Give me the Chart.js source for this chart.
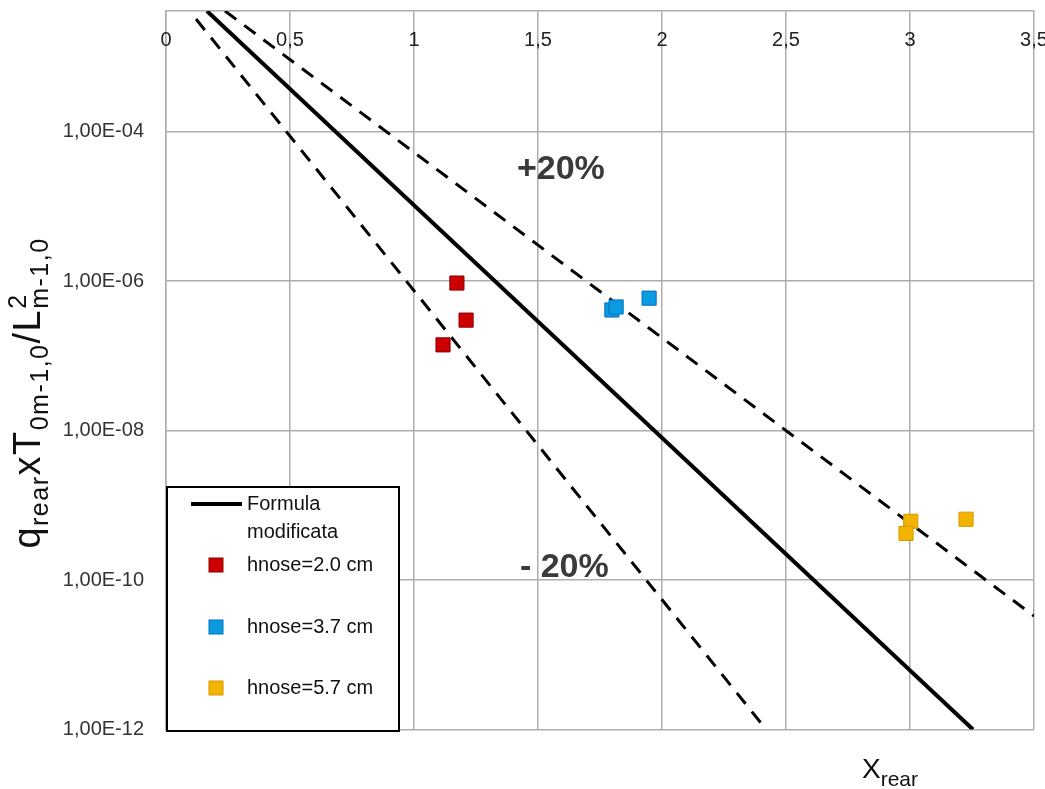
<!DOCTYPE html>
<html>
<head>
<meta charset="utf-8">
<script src="https://cdn.jsdelivr.net/npm/chart.js@4.4.0/dist/chart.umd.min.js"></script>
<style>
  html, body { margin: 0; padding: 0; background: #fff; }
</style>
</head>
<body>
<canvas id="chart" width="1045" height="789"></canvas>
<script>
// axis ticks
const xTickValues = [0, 0.5, 1, 1.5, 2, 2.5, 3, 3.5];
const xTickLabels = ['0', '0,5', '1', '1,5', '2', '2,5', '3', '3,5'];
const yTickValues = [1e-12, 1e-10, 1e-8, 1e-6, 1e-4];
const yTickLabels = ['1,00E-12', '1,00E-10', '1,00E-08', '1,00E-06', '1,00E-04'];

// reference lines (end points)
const formulaX = [0.165, 3.254];
const formulaY = [4.1e-3, 1e-12];
const plus20X = [0.238, 3.5];
const plus20Y = [4.1e-3, 3.3e-11];
const minus20X = [0.121, 2.42];
const minus20Y = [3.2e-3, 1e-12];

// measured points
const h20X = [1.173, 1.210, 1.117];
const h20Y = [9.4e-7, 3.0e-7, 1.4e-7];
const h37X = [1.798, 1.815, 1.948];
const h37Y = [4.1e-7, 4.5e-7, 5.9e-7];
const h57X = [3.003, 2.984, 3.226];
const h57Y = [6.1e-10, 4.2e-10, 6.5e-10];

const FONT = '"Liberation Sans", Arial, sans-serif';
const GRID = '#adadad';

function pts(xs, ys) {
    return xs.map((x, i) => ({x: x, y: ys[i]}));
}

// draws text pieces one after another, with sub/superscripts
function drawPieces(ctx, pieces, x0, y0) {
    let x = x0;
    pieces.forEach(p => {
        ctx.font = p.size + 'px ' + FONT;
        ctx.fillText(p.t, x, y0 + (p.dy || 0));
        if (!p.stack) x += ctx.measureText(p.t).width;
    });
    return x - x0;
}

const overlay = {
    id: 'overlay',
    afterDraw(chart) {
        const ctx = chart.ctx;
        const xs = chart.scales.x, ys = chart.scales.y;
        ctx.save();

        // x tick labels sit inside the plot, under the top edge
        ctx.fillStyle = '#222';
        ctx.font = '20px ' + FONT;
        ctx.textAlign = 'center';
        ctx.textBaseline = 'middle';
        xTickValues.forEach((v, i) => {
            ctx.fillText(xTickLabels[i], xs.getPixelForValue(v), 40);
        });

        // +20% / -20% notes
        ctx.fillStyle = '#3a3a3a';
        ctx.font = 'bold 34px ' + FONT;
        ctx.textAlign = 'left';
        ctx.fillText('+20%', xs.getPixelForValue(1.415), ys.getPixelForValue(3.1e-5));
        ctx.fillText('- 20%', xs.getPixelForValue(1.427), ys.getPixelForValue(1.45e-10));

        // y title, rotated
        ctx.fillStyle = '#111';
        ctx.textBaseline = 'alphabetic';
        const yTitle = [
            {t: 'q', size: 38},
            {t: 'rear', size: 25, dy: 8},
            {t: 'x', size: 38},
            {t: 'T', size: 38},
            {t: '0m-1,0', size: 25, dy: 8},
            {t: '/L', size: 38},
            {t: '2', size: 25, dy: -14, stack: true},
            {t: 'm-1,0', size: 25, dy: 8}
        ];
        ctx.save();
        ctx.translate(40, 393);
        ctx.rotate(-Math.PI / 2);
        ctx.letterSpacing = '1.5px';
        ctx.globalAlpha = 0;
        const w = drawPieces(ctx, yTitle, 0, 0);
        ctx.globalAlpha = 1;
        drawPieces(ctx, yTitle, -w / 2, 0);
        ctx.restore();

        // x title
        drawPieces(ctx, [{t: 'X', size: 28}, {t: 'rear', size: 21, dy: 8}], 862, 778);

        // legend box
        const lx = 167, ly = 487, lw = 232, lh = 244;
        ctx.fillStyle = '#fff';
        ctx.fillRect(lx, ly, lw, lh);
        ctx.strokeStyle = '#000';
        ctx.lineWidth = 2;
        ctx.strokeRect(lx, ly, lw, lh);

        const ds = chart.data.datasets;
        ctx.font = '20px ' + FONT;
        ctx.textBaseline = 'middle';
        ctx.fillStyle = '#111';
        // solid formula line
        ctx.strokeStyle = ds[3].borderColor;
        ctx.lineWidth = 4;
        ctx.beginPath();
        ctx.moveTo(191, 504);
        ctx.lineTo(242, 504);
        ctx.stroke();
        ctx.fillText('Formula', 247, 504);
        ctx.fillText('modificata', 247, 532);
        // marker series
        [565, 627, 688].forEach((yy, i) => {
            const d = ds[i];
            ctx.fillStyle = d.backgroundColor;
            ctx.strokeStyle = d.borderColor;
            ctx.lineWidth = 1;
            ctx.fillRect(209, yy - 7, 14, 14);
            ctx.strokeRect(209, yy - 7, 14, 14);
            ctx.fillStyle = '#111';
            ctx.fillText(d.label, 247, yy);
        });

        ctx.restore();
    }
};

const markerStyle = (fill, border) => ({
    showLine: false,
    pointStyle: 'rect',
    pointRadius: 10,
    backgroundColor: fill,
    borderColor: border,
    pointBorderWidth: 1
});

new Chart(document.getElementById('chart'), {
    type: 'scatter',
    data: {
        datasets: [
            Object.assign({label: 'hnose=2.0 cm', data: pts(h20X, h20Y)}, markerStyle('#cc0000', '#8e0000')),
            Object.assign({label: 'hnose=3.7 cm', data: pts(h37X, h37Y)}, markerStyle('#0a9be0', '#0070c0')),
            Object.assign({label: 'hnose=5.7 cm', data: pts(h57X, h57Y)}, markerStyle('#f2b400', '#d49a00')),
            {
                label: 'Formula modificata',
                data: pts(formulaX, formulaY),
                showLine: true,
                borderColor: '#000',
                borderWidth: 4,
                pointRadius: 0
            },
            {
                label: '+20%',
                data: pts(plus20X, plus20Y),
                showLine: true,
                borderColor: '#000',
                borderWidth: 3,
                borderDash: [14, 10],
                pointRadius: 0
            },
            {
                label: '-20%',
                data: pts(minus20X, minus20Y),
                showLine: true,
                borderColor: '#000',
                borderWidth: 3,
                borderDash: [14, 10],
                pointRadius: 0
            }
        ]
    },
    options: {
        responsive: false,
        animation: false,
        layout: {
            padding: {left: 0, top: 0, right: 10.5, bottom: 59.5}
        },
        scales: {
            x: {
                type: 'linear',
                position: 'top',
                min: 0,
                max: 3.5,
                ticks: {stepSize: 0.5, display: false},
                grid: {color: GRID, lineWidth: 1.5, drawTicks: false},
                border: {color: GRID, width: 1.5},
                afterFit: s => { s.height = 9; s.paddingLeft = 0; s.paddingRight = 0; }
            },
            y: {
                type: 'logarithmic',
                min: 1e-12,
                max: 4.1e-3,
                afterBuildTicks: s => { s.ticks = yTickValues.map(v => ({value: v})); },
                ticks: {
                    padding: 22,
                    color: '#333',
                    font: {size: 20, family: FONT},
                    callback: (v, i) => yTickLabels[i]
                },
                grid: {color: GRID, lineWidth: 1.5, drawTicks: false},
                border: {color: GRID, width: 1.5},
                // keep the plot box where the picture has it
                afterFit: s => { s.width = 166; s.paddingTop = 0; s.paddingBottom = 0; }
            }
        },
        plugins: {
            legend: {display: false},
            tooltip: {enabled: false}
        }
    },
    plugins: [overlay]
});
</script>
</body>
</html>
